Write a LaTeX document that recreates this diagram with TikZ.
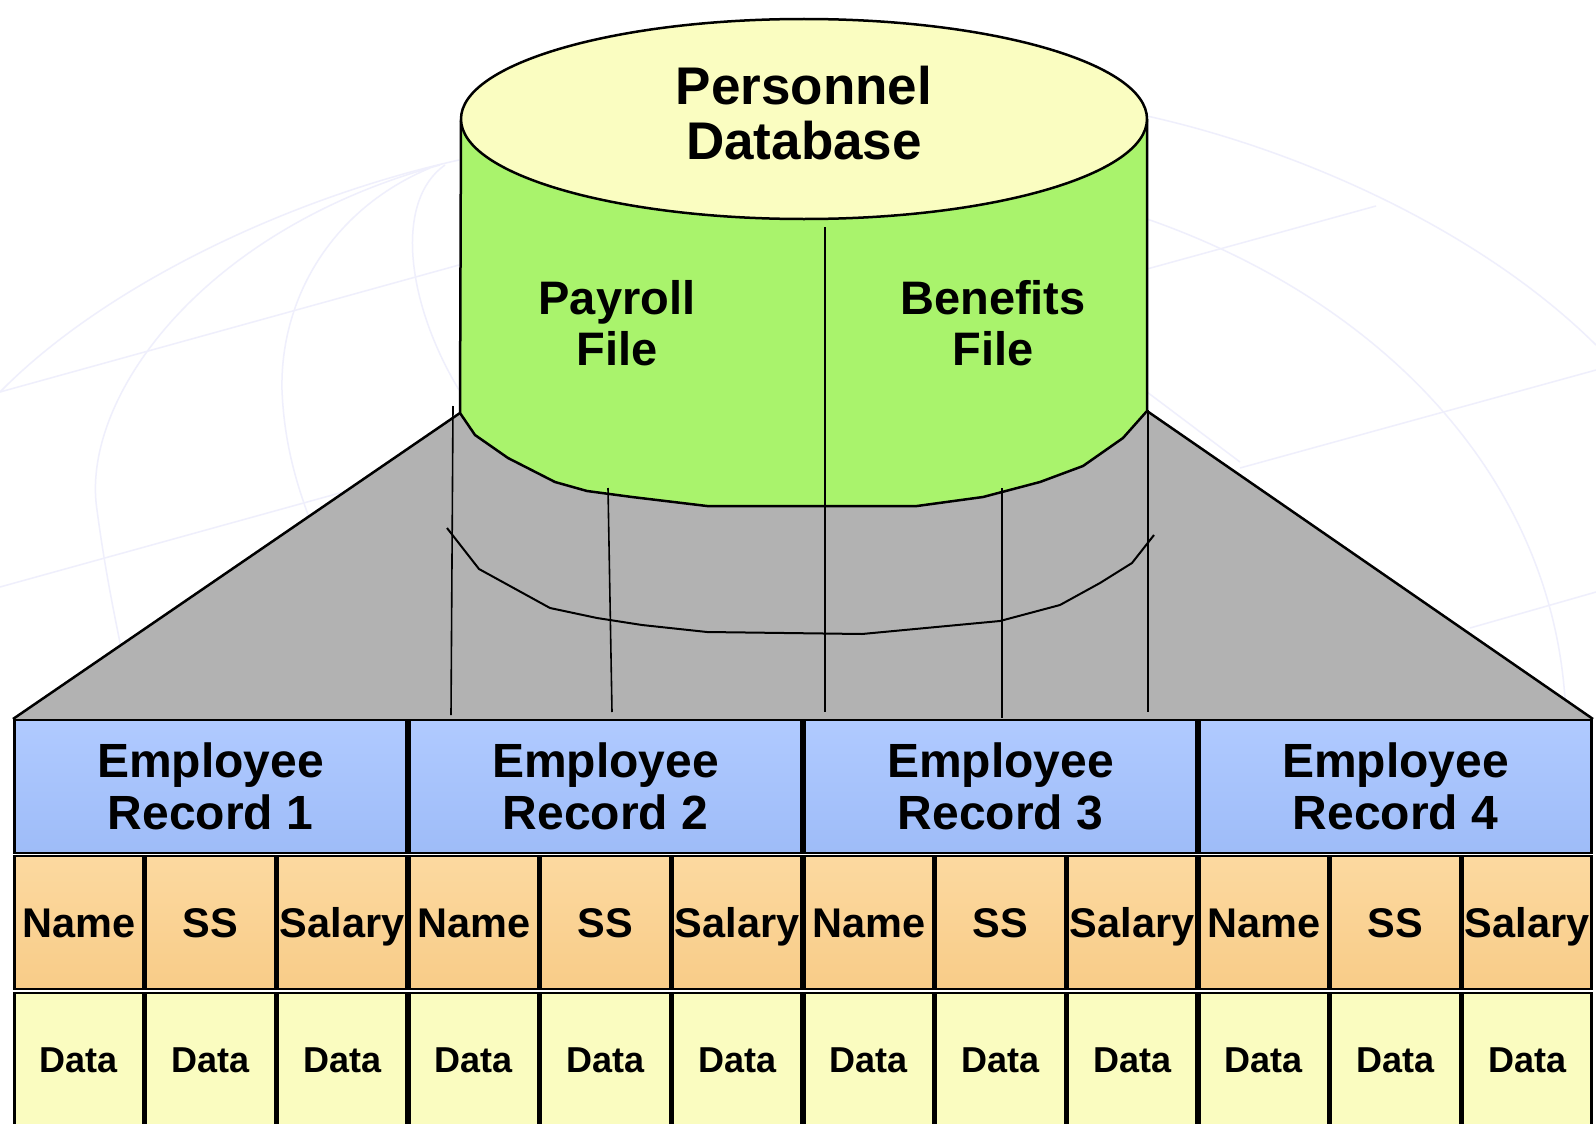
\documentclass[tikz,border=0pt]{standalone}
\usepackage{fontspec}
\setmainfont{Liberation Sans}
\usetikzlibrary{positioning}
\definecolor{topyellow}{HTML}{FAFDC1}
\definecolor{drumgreen}{HTML}{A9F36C}
\definecolor{shadegray}{HTML}{B2B2B2}
\definecolor{bluetop}{HTML}{B0CAFF}
\definecolor{bluebot}{HTML}{9EBCF8}
\definecolor{orangetop}{HTML}{FCD9A0}
\definecolor{orangebot}{HTML}{F8CC88}
\definecolor{datayellow}{HTML}{FAFCC0}
\definecolor{globeline}{HTML}{EFEFFC}
\tikzset{%
      outline/.style = { draw=black, line width=2.5pt },
         seam/.style = { black, line width=1.6pt },
        globe/.style = { globeline, line width=1.5pt },
       record/.style = { outline, top color=bluetop, bottom color=bluebot,
                         minimum width=392pt, minimum height=133pt, inner sep=0pt,
                         align=center, font=\fontsize{48}{52}\selectfont\bfseries },
        field/.style = { outline, top color=orangetop, bottom color=orangebot,
                         minimum width=129pt, minimum height=133pt, inner sep=0pt,
                         text height=30pt, text depth=0pt,
                         font=\fontsize{41.5}{44}\selectfont\bfseries },
        datum/.style = { outline, fill=datayellow,
                         minimum width=129pt, minimum height=132pt, inner sep=0pt,
                         text height=26pt, text depth=0pt,
                         font=\fontsize{36}{40}\selectfont\bfseries },
     drumtext/.style = { align=center, anchor=base, inner sep=0pt }
}
\begin{document}
\begin{tikzpicture}[x=1pt, y=-1pt]
  \useasboundingbox[fill=white] (0,0) rectangle (1596,1124);
  \clip (0,0) rectangle (1596,1124);

  % faint globe behind
  \draw[globe] (459,160) .. controls (280,200) and (100,290) .. (0,392);
  \draw[globe] (440,165) .. controls (200,230) and (80,400) .. (97,510) .. controls (105,570) and (115,620) .. (132,700);
  \draw[globe] (430,168) .. controls (330,210) and (280,300) .. (282,390) .. controls (284,440) and (295,480) .. (310,520);
  \draw[globe] (445,165) .. controls (395,200) and (405,300) .. (459,390);
  \draw[globe] (459,265) -- (0,392);
  \draw[globe] (459,460) -- (0,587);
  \draw[globe] (1147,116) .. controls (1300,150) and (1480,230) .. (1596,345);
  \draw[globe] (1147,219) .. controls (1380,300) and (1560,480) .. (1566,720);
  \draw[globe] (1147,392) -- (1240,462);
  \draw[globe] (1147,269) -- (1376,206);
  \draw[globe] (1240,468) -- (1596,370);
  \draw[globe] (1470,628) -- (1596,592);

  % grey fan below the drum
  \fill[shadegray] (460,413) -- (13,719) -- (1593,719) -- (1147,411) -- cycle;
  \draw[outline] (460,413) -- (13,719);
  \draw[outline] (1147,411) -- (1593,719);

  % drum
  \draw[outline, fill=drumgreen] (461,119) -- (460,413) -- (475,435) -- (508,458)
    -- (555,482) -- (587,491) -- (632,497) -- (707,506) -- (917,506) -- (983,497)
    -- (1040,482) -- (1083,466) -- (1123,438) -- (1147,411) -- (1147,119);
  \draw[outline, fill=topyellow] (804,119) ellipse [x radius=343pt, y radius=100pt];

  % lower ring and seams
  \draw[seam, line width=2pt] (447,528) -- (479,569) -- (550,608) -- (597,618) -- (642,625)
    -- (707,632) -- (862,634) -- (1000,621) -- (1060,605) -- (1100,583) -- (1132,563) -- (1154,535);
  \draw[seam] (453,406) -- (451,715);
  \draw[seam] (608,488) -- (612,712);
  \draw[seam] (825,227) -- (825,712);
  \draw[seam] (1002,488) -- (1002,718);
  \draw[seam] (1148,410) -- (1148,712);

  \node[drumtext, font=\fontsize{53}{55}\selectfont\bfseries] (db) at (804,159) {Personnel\\Database};
  \node[drumtext, font=\fontsize{47}{51}\selectfont\bfseries] (pay) at (617,365) {Payroll\\File};
  \node[drumtext, font=\fontsize{47}{51}\selectfont\bfseries] (ben) at (993,365) {Benefits\\File};

  % records
  \foreach \i in {1,...,4} {
    \pgfmathsetmacro{\xr}{210.5+395*(\i-1)}
    \node[record] (rec\i) at (\xr,786.5) {Employee\\Record \i};
    \foreach \f [count=\j] in {Name,SS,Salary} {
      \pgfmathsetmacro{\xf}{13+395*(\i-1)+131.67*(\j-0.5)}
      \node[field] (f\i\j) at (\xf,922.5) {\f};
      \node[datum, below=1.5pt of f\i\j] (d\i\j) {Data};
    }
  }
\end{tikzpicture}
\end{document}
